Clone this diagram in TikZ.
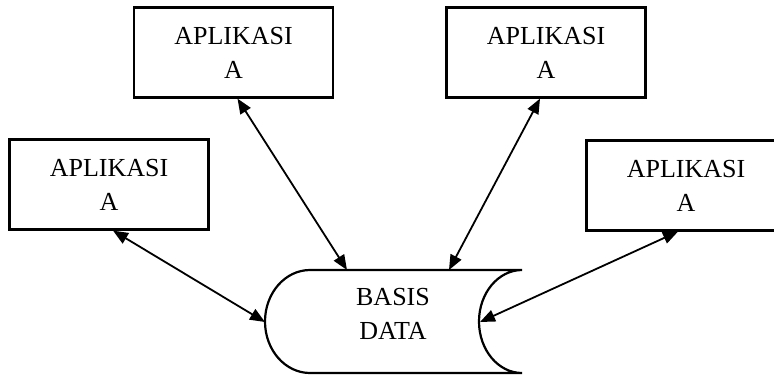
\documentclass[tikz,border=0pt]{standalone}
\usepackage{fontspec}
\setmainfont{Liberation Serif}
\usetikzlibrary{calc, arrows.meta}

\begin{document}
\begin{tikzpicture}[x = 1pt, y = -1pt,
    app/.style = {draw, line width=2.2pt, minimum width=199pt, minimum height=90pt,
      align=center, inner sep=0pt, font=\fontsize{26}{34}\selectfont},
    link/.style = {line width=1.8pt, {Triangle[length=15pt,width=12pt]}-{Triangle[length=15pt,width=12pt]}}]
    \clip (0,0) rectangle (774,376);

    % aplikasi
    \node[app] (appA) at (233.5,52.5) {APLIKASI\\A};
    \node[app] (appB) at (546,52.5) {APLIKASI\\A};
    \node[app] (appC) at (109,184.5) {APLIKASI\\A};
    \node[app] (appD) at (686,185.5) {APLIKASI\\A};

    % basis data
    \draw[line width=2.2pt] (522,270)-- (310,270) arc[start angle=270, end angle=90, x radius=45, y radius=51.5]
      -- (522,373) arc[start angle=90, end angle=270, x radius=43, y radius=51.5] --cycle;
    \node[align=center, font=\fontsize{26}{34}\selectfont] (db) at (393,314) {BASIS\\DATA};
    \coordinate (dbA) at (347,270);
    \coordinate (dbB) at (449,270);
    \coordinate (dbC) at (265,322);
    \coordinate (dbD) at (480,322);

    \draw[link] ([xshift=4pt]appA.south) -- (dbA);
    \draw[link] ([xshift=-6pt]appB.south) -- (dbB);
    \draw[link] ([xshift=4pt]appC.south) -- (dbC);
    \draw[link] ([xshift=-8pt]appD.south) -- (dbD);
\end{tikzpicture}
\end{document}
